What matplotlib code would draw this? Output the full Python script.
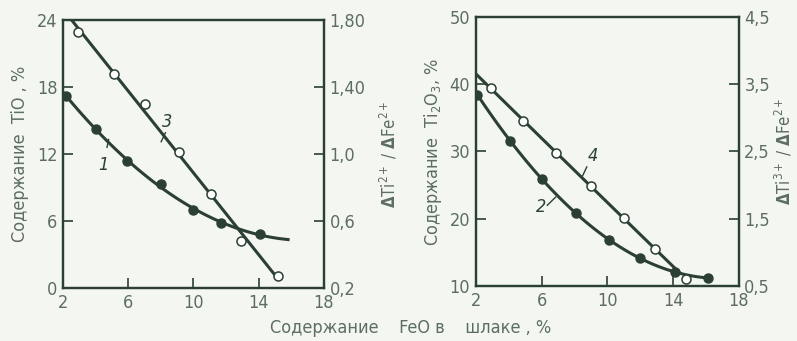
import numpy as np
import matplotlib
matplotlib.use("Agg")
import matplotlib.pyplot as plt

# ---- data ----
# left panel: curve 1 (TiO content, left axis), curve 3 (ratio, right axis)
x1 = [2.2, 4.0, 5.9, 8.0, 10.0, 11.7, 14.1]
y1 = [17.2, 14.2, 11.4, 9.3, 7.0, 5.8, 4.8]
x3 = [2.9, 5.1, 7.0, 9.1, 11.1, 12.9, 15.2]
y3 = [1.73, 1.48, 1.30, 1.01, 0.76, 0.48, 0.27]
# right panel: curve 2 (Ti2O3 content, left axis), curve 4 (ratio, right axis)
x2 = [2.1, 4.1, 6.0, 8.1, 10.1, 12.0, 14.1, 16.1]
y2 = [38.4, 31.6, 25.9, 20.8, 16.9, 14.1, 12.1, 11.2]
x4 = [2.9, 4.9, 6.9, 9.0, 11.0, 12.9, 14.8]
y4 = [3.44, 2.96, 2.48, 1.98, 1.51, 1.05, 0.60]

xticks = [2, 6, 10, 14, 18]
l_yticks = [0, 6, 12, 18, 24]
l_rticks = [0.2, 0.6, 1.0, 1.4, 1.8]
l_rlabels = ["0,2", "0,6", "1,0", "1,40", "1,80"]
r_yticks = [10, 20, 30, 40, 50]
r_rticks = [0.5, 1.5, 2.5, 3.5, 4.5]
r_rlabels = ["0,5", "1,5", "2,5", "3,5", "4,5"]

BG = "#f3f6f1"
INK = "#2c3f34"
TXT = "#5d6d63"

plt.rcParams['font.family'] = ['DejaVu Sans']
plt.rcParams['font.stretch'] = 'condensed'
plt.rcParams['mathtext.fontset'] = 'dejavusans'

fig = plt.figure(figsize=(7.97, 3.41), dpi=100, facecolor=BG)

def style(ax):
    ax.set_facecolor("none")
    for s in ax.spines.values():
        s.set_color(INK)
        s.set_linewidth(1.6)
    ax.tick_params(direction="in", length=7, width=1.2, colors=INK,
                   labelcolor=TXT, labelsize=13, pad=4)

mk_f = dict(marker="o", ms=6.5, mfc=INK, mec=INK, ls="none", zorder=5)
mk_o = dict(marker="o", ms=6.5, mfc="white", mec=INK, mew=1.1, ls="none", zorder=5)

# ---------------- left panel ----------------
axL = fig.add_axes([0.079, 0.1554, 0.3275, 0.786])
axL2 = axL.twinx()
for a in (axL, axL2):
    style(a)
axL.set_xlim(2, 18)
axL.set_ylim(0, 24)
axL2.set_ylim(0.2, 1.8)
axL.set_xticks(xticks)
axL.set_yticks(l_yticks)
axL2.set_yticks(l_rticks)
axL2.set_yticklabels(l_rlabels)

c1 = np.polyfit(x1, y1, 2)
xx1 = np.linspace(2, 15.8, 100)
axL.plot(xx1, np.polyval(c1, xx1), color=INK, lw=2.2)
axL.plot(x1, y1, **mk_f)

c3 = np.polyfit(x3, y3, 1)
xx3 = np.linspace(2, 15.15, 50)
axL2.plot(xx3, np.polyval(c3, xx3), color=INK, lw=2.2)
axL2.plot(x3, y3, **mk_o)

axL.text(4.45, 11.0, "1", style="italic", fontsize=13, color=INK, ha="center", va="center")
axL.plot([4.7, 4.8], [12.6, 13.3], color=INK, lw=1)
axL.text(8.4, 14.9, "3", style="italic", fontsize=13, color=INK, ha="center", va="center")
axL.plot([8.28, 8.02], [13.9, 13.1], color=INK, lw=1)

axL.set_ylabel("Содержание  TiO , %", color=TXT, fontsize=13, labelpad=6)
axL2.set_ylabel(r"$\mathbf{\Delta}$Ti$^{2+}$ / $\mathbf{\Delta}$Fe$^{2+}$", color=TXT,
                fontsize=12, labelpad=9)

# ---------------- right panel ----------------
axR = fig.add_axes([0.597, 0.1613, 0.330, 0.789])
axR2 = axR.twinx()
for a in (axR, axR2):
    style(a)
axR.set_xlim(2, 18)
axR.set_ylim(10, 50)
axR2.set_ylim(0.5, 4.5)
axR.set_xticks(xticks)
axR.set_yticks(r_yticks)
axR2.set_yticks(r_rticks)
axR2.set_yticklabels(r_rlabels)

c2 = np.polyfit(x2, y2, 3)
xx2 = np.linspace(2, 16.1, 100)
axR.plot(xx2, np.polyval(c2, xx2), color=INK, lw=2.2)
axR.plot(x2, y2, **mk_f)

c4 = np.polyfit(x4[:-1], y4[:-1], 2)
xx4 = np.linspace(2, 14.4, 100)
axR2.plot(xx4, np.polyval(c4, xx4), color=INK, lw=2.2)
axR2.plot(x4, y4, **mk_o)

axR.text(9.12, 29.3, "4", style="italic", fontsize=13, color=INK, ha="center", va="center")
axR.plot([8.75, 8.5], [27.7, 26.4], color=INK, lw=1)
axR.text(5.95, 21.8, "2", style="italic", fontsize=13, color=INK, ha="center", va="center")
axR.plot([6.35, 6.85], [22.0, 23.2], color=INK, lw=1)

axR.set_ylabel("Содержание  Ti$_2$O$_3$, %", color=TXT, fontsize=13, labelpad=4)
axR2.set_ylabel(r"$\mathbf{\Delta}$Ti$^{3+}$ / $\mathbf{\Delta}$Fe$^{2+}$", color=TXT,
                fontsize=12, labelpad=2)

fig.text(270 / 797, 0.038, "Содержание    FeO в    шлаке , %", color=TXT, fontsize=13,
         ha="left", va="center")

fig.savefig("out.png", dpi=100, facecolor=BG)
